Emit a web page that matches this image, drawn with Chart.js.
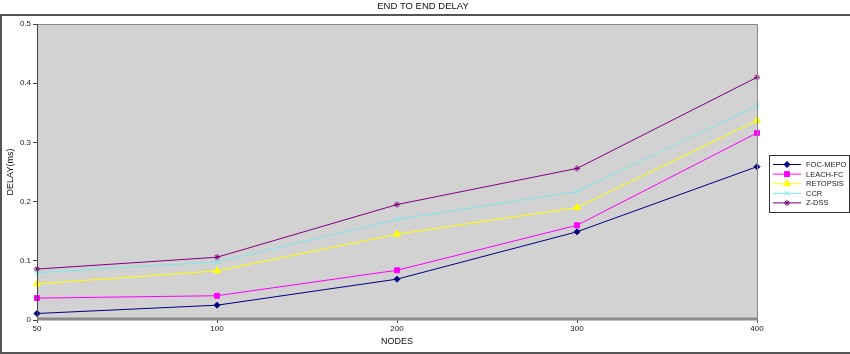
<!DOCTYPE html>
<html>
<head>
<meta charset="utf-8">
<script src="https://cdn.jsdelivr.net/npm/chart.js@4"></script>
<style>
  html, body { margin: 0; padding: 0; background: #fff; }
  #wrap { width: 850px; height: 354px; }
</style>
</head>
<body>
<div id="wrap"><canvas id="c" width="850" height="354"></canvas></div>
<script>
// data
const nodes = ['50', '100', '200', '300', '400'];
const focMepo  = [0.011, 0.025, 0.069, 0.149, 0.259];
const leachFc  = [0.037, 0.041, 0.084, 0.160, 0.316];
const retopsis = [0.061, 0.083, 0.145, 0.190, 0.337];
const ccr      = [0.080, 0.098, 0.170, 0.217, 0.362];
const zDss     = [0.086, 0.106, 0.195, 0.256, 0.410];
const yTicks   = [0, 0.1, 0.2, 0.3, 0.4, 0.5];

const series = [
  { label: 'FOC-MEPO', data: focMepo,  color: '#000080', style: 'rectRot',  r: 3 },
  { label: 'LEACH-FC', data: leachFc,  color: '#ff00ff', style: 'rect',     r: 3.5 },
  { label: 'RETOPSIS', data: retopsis, color: '#ffff00', style: 'triangle', r: 4 },
  { label: 'CCR',      data: ccr,      color: '#7fe8e8', style: 'crossRot', r: 3.5 },
  { label: 'Z-DSS',    data: zDss,     color: '#800080', style: 'star',     r: 3 }
];

const FONT = 'Liberation Sans, Arial, sans-serif';

// frame, background, titles and legend
const decor = {
  id: 'decor',
  beforeDraw(chart) {
    const ctx = chart.ctx, a = chart.chartArea;
    ctx.save();
    ctx.fillStyle = '#fff';
    ctx.fillRect(0, 0, chart.width, chart.height);
    ctx.strokeStyle = '#555';
    ctx.lineWidth = 2;
    ctx.strokeRect(1, 15, chart.width + 4, chart.height - 16);
    ctx.fillStyle = '#d2d2d2';
    ctx.fillRect(a.left, a.top, a.right - a.left, a.bottom - a.top);
    ctx.fillStyle = '#111';
    ctx.font = '9.5px ' + FONT;
    ctx.textAlign = 'center';
    ctx.textBaseline = 'middle';
    ctx.fillText('END TO END DELAY', 423, 6);
    ctx.restore();
  },
  afterDraw(chart) {
    const ctx = chart.ctx, a = chart.chartArea;
    ctx.save();
    // plot borders
    ctx.lineWidth = 1;
    ctx.strokeStyle = '#888';
    ctx.beginPath();
    ctx.moveTo(a.left, a.top + 0.5); ctx.lineTo(a.right + 0.5, a.top + 0.5);
    ctx.lineTo(a.right + 0.5, a.bottom);
    ctx.stroke();
    ctx.strokeStyle = '#444';
    ctx.beginPath();
    ctx.moveTo(a.left + 0.5, a.top); ctx.lineTo(a.left + 0.5, a.bottom);
    ctx.stroke();
    ctx.strokeStyle = '#8a8a8a';
    ctx.lineWidth = 3;
    ctx.beginPath();
    ctx.moveTo(a.left, a.bottom - 1); ctx.lineTo(a.right + 1, a.bottom - 1);
    ctx.stroke();

    // axis titles
    ctx.fillStyle = '#111';
    ctx.font = '9px ' + FONT;
    ctx.textAlign = 'center';
    ctx.textBaseline = 'middle';
    ctx.fillText('NODES', (a.left + a.right) / 2, 342);
    ctx.save();
    ctx.translate(11, (a.top + a.bottom) / 2);
    ctx.rotate(-Math.PI / 2);
    ctx.fillText('DELAY(ms)', 0, 0);
    ctx.restore();

    // legend
    const lx = 769, ly = 155, lw = 80, lh = 57;
    ctx.fillStyle = '#fff';
    ctx.fillRect(lx, ly, lw, lh);
    ctx.strokeStyle = '#333';
    ctx.lineWidth = 1;
    ctx.strokeRect(lx + 0.5, ly + 0.5, lw, lh);
    ctx.font = '7.5px ' + FONT;
    ctx.textAlign = 'left';
    chart.data.datasets.forEach((ds, i) => {
      const y = ly + 9.5 + i * 9.6;
      ctx.strokeStyle = ds.borderColor;
      ctx.lineWidth = 1;
      ctx.beginPath();
      ctx.moveTo(lx + 4, y); ctx.lineTo(lx + 32, y);
      ctx.stroke();
      ctx.fillStyle = ds.pointBackgroundColor;
      ctx.strokeStyle = ds.pointBorderColor;
      Chart.helpers.drawPoint(ctx, {
        pointStyle: ds.pointStyle, radius: ds.pointRadius, borderWidth: 1, rotation: 0
      }, lx + 18, y);
      ctx.fillStyle = '#222';
      ctx.fillText(ds.label, lx + 37, y + 0.5);
    });
    ctx.restore();
  }
};

const datasets = series.map(s => ({
  label: s.label,
  data: s.data,
  borderColor: s.color,
  backgroundColor: s.color,
  pointBackgroundColor: s.color,
  pointBorderColor: s.color,
  pointStyle: s.style,
  pointRadius: s.r,
  pointBorderWidth: 1,
  borderWidth: 1,
  tension: 0,
  fill: false
}));

new Chart(document.getElementById('c'), {
  type: 'line',
  data: { labels: nodes, datasets: datasets },
  plugins: [decor],
  options: {
    responsive: false,
    animation: false,
    layout: { padding: { left: 0, top: 24, right: 93, bottom: 0 } },
    plugins: { legend: { display: false }, tooltip: { enabled: false } },
    scales: {
      x: {
        offset: false,
        grid: { drawOnChartArea: false, drawTicks: true, tickLength: 3, color: '#444' },
        border: { display: false },
        ticks: { color: '#222', font: { size: 8, family: FONT }, padding: 1, maxRotation: 0 },
        afterFit(s) { s.height = 34; }
      },
      y: {
        min: 0, max: 0.5,
        afterBuildTicks(s) { s.ticks = yTicks.map(v => ({ value: v })); },
        grid: { drawOnChartArea: false, drawTicks: true, tickLength: 4, color: '#444' },
        border: { display: false },
        ticks: { color: '#222', font: { size: 8, family: FONT }, padding: 2,
                 callback: v => String(Math.round(v * 10) / 10) },
        afterFit(s) { s.width = 37; }
      }
    }
  }
});
</script>
</body>
</html>
